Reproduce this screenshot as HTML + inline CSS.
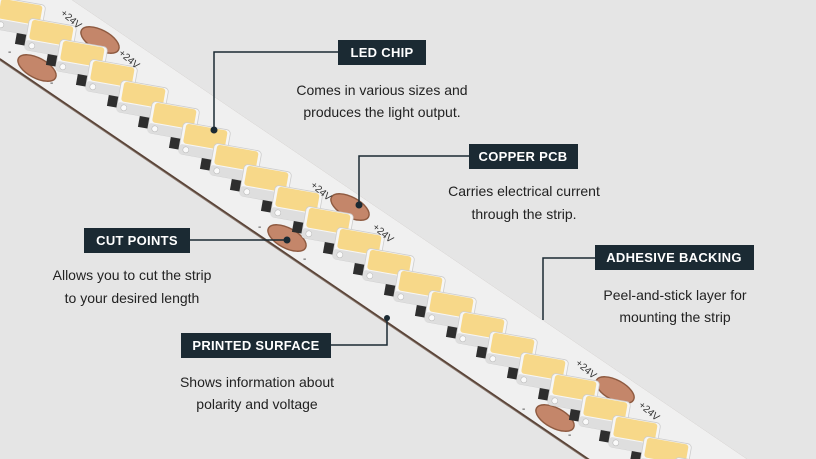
<!DOCTYPE html>
<html><head><meta charset="utf-8"><style>
html,body{margin:0;padding:0;width:816px;height:459px;overflow:hidden;background:#e5e5e5}
svg{display:block;position:absolute;left:0;top:0}
text{font-family:"Liberation Sans",sans-serif}
.t{font-size:14px;fill:#222;text-anchor:middle}
.b{font-size:13px;font-weight:bold;fill:#fff;text-anchor:middle;letter-spacing:0.3px}
.v{font-size:10px;fill:#333}
</style></head><body>
<svg width="816" height="459" viewBox="0 0 816 459" xmlns="http://www.w3.org/2000/svg">
<defs>
<g id="chip">
  <g transform="rotate(10)">
    <rect x="-34" y="4" width="16" height="11" fill="#2e2e2e"/>
    <rect x="-24" y="-13" width="48" height="32" rx="4" fill="#f6f6f6" stroke="#cdcdcd" stroke-width="0.8"/>
    <rect x="-24" y="9" width="48" height="10" rx="3" fill="#dedede"/>
    <rect x="-21" y="-12" width="42" height="20" rx="3" fill="#f7d889"/>
    <circle cx="-17" cy="14" r="3" fill="#fafafa" stroke="#bbb" stroke-width="0.6"/>
  </g>
</g>
<g id="pad">
  <ellipse rx="21" ry="10" fill="#c4866a" stroke="#8e5a40" stroke-width="1.4" transform="rotate(28)"/>
</g>
</defs>
<rect width="816" height="459" fill="#e5e5e5"/>
<polygon points="0,-49 816,506 816,616 0,61" fill="#8a7a70"/>
<polygon points="0,-49 816,506 816,613 0,58" fill="#f0f0f0"/>
<line x1="0" y1="59" x2="816" y2="614" stroke="#5a4438" stroke-width="1.6"/>
<use href="#pad" x="37" y="68"/><use href="#pad" x="100" y="40"/>
<use href="#pad" x="287" y="238"/><use href="#pad" x="350" y="207"/>
<use href="#pad" x="555" y="418"/><use href="#pad" x="615" y="390"/>
<use href="#chip" x="-10" y="-7"/><use href="#chip" x="20" y="14"/><use href="#chip" x="51" y="35"/>
<use href="#chip" x="82" y="56"/><use href="#chip" x="112" y="76"/><use href="#chip" x="143" y="97"/>
<use href="#chip" x="174" y="118"/><use href="#chip" x="205" y="139"/><use href="#chip" x="236" y="160"/>
<use href="#chip" x="266" y="181"/><use href="#chip" x="297" y="202"/><use href="#chip" x="328" y="223"/>
<use href="#chip" x="359" y="244"/><use href="#chip" x="389" y="265"/><use href="#chip" x="420" y="286"/>
<use href="#chip" x="451" y="307"/><use href="#chip" x="482" y="328"/><use href="#chip" x="512" y="348"/>
<use href="#chip" x="543" y="369"/><use href="#chip" x="574" y="390"/><use href="#chip" x="605" y="411"/>
<use href="#chip" x="635" y="432"/><use href="#chip" x="666" y="453"/><use href="#chip" x="697" y="474"/>
<text class="v" transform="translate(60,14) rotate(40)">+24V</text>
<text class="v" transform="translate(118,54) rotate(40)">+24V</text>
<text class="v" transform="translate(310,186) rotate(40)">+24V</text>
<text class="v" transform="translate(372,228) rotate(40)">+24V</text>
<text class="v" transform="translate(575,364) rotate(40)">+24V</text>
<text class="v" transform="translate(638,406) rotate(40)">+24V</text>
<text class="v" x="8" y="55">-</text><text class="v" x="50" y="86">-</text>
<text class="v" x="258" y="230">-</text><text class="v" x="303" y="262">-</text>
<text class="v" x="522" y="412">-</text><text class="v" x="568" y="438">-</text>
<g stroke="#1b2a33" stroke-width="1.5" fill="none">
  <polyline points="338,52 214,52 214,130"/>
  <polyline points="469,156 359,156 359,205"/>
  <polyline points="190,240 287,240"/>
  <polyline points="595,258 543,258 543,320"/>
  <polyline points="331,345 387,345 387,318"/>
</g>
<g fill="#1b2a33">
  <circle cx="214" cy="130" r="3.5"/><circle cx="359" cy="205" r="3.5"/>
  <circle cx="287" cy="240" r="3.5"/><circle cx="387" cy="318" r="3"/>
  <rect x="338" y="40" width="88" height="25"/>
  <rect x="469" y="144" width="109" height="25"/>
  <rect x="84" y="228" width="106" height="25"/>
  <rect x="595" y="245" width="159" height="25"/>
  <rect x="181" y="333" width="150" height="25"/>
</g>
<text class="b" x="382" y="57">LED CHIP</text>
<text class="b" x="523" y="161">COPPER PCB</text>
<text class="b" x="137" y="245">CUT POINTS</text>
<text class="b" x="674" y="262">ADHESIVE BACKING</text>
<text class="b" x="256" y="350">PRINTED SURFACE</text>
<text class="t" x="382" y="95">Comes in various sizes and</text>
<text class="t" x="382" y="117">produces the light output.</text>
<text class="t" x="524" y="196">Carries electrical current</text>
<text class="t" x="524" y="219">through the strip.</text>
<text class="t" x="132" y="280">Allows you to cut the strip</text>
<text class="t" x="132" y="303">to your desired length</text>
<text class="t" x="675" y="300">Peel-and-stick layer for</text>
<text class="t" x="675" y="322">mounting the strip</text>
<text class="t" x="257" y="387">Shows information about</text>
<text class="t" x="257" y="409">polarity and voltage</text>
</svg>
</body></html>
